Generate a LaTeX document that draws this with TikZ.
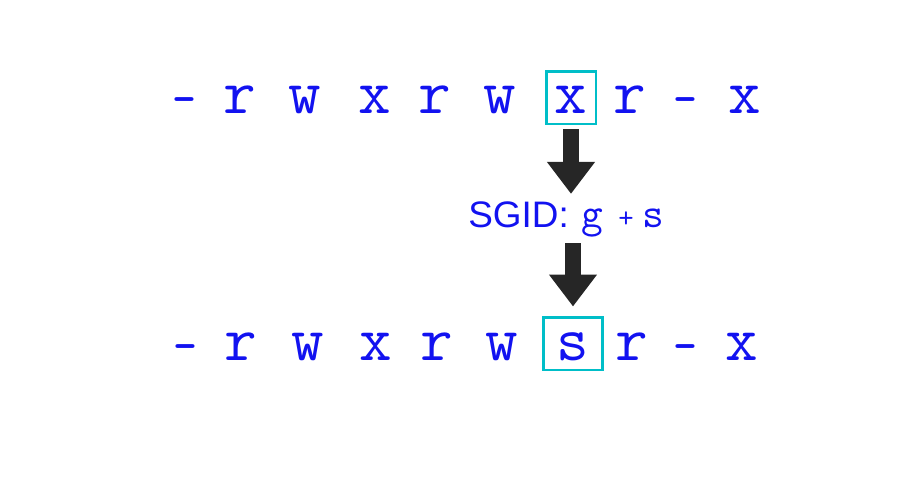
\documentclass[tikz,border=0pt]{standalone}
\usepackage{fontspec}
\setmainfont{Liberation Sans}
\usetikzlibrary{arrows.meta}
\definecolor{permblue}{RGB}{18,18,240}
\definecolor{boxcyan}{RGB}{0,190,200}
\tikzset{
  perm/.style={text=permblue,font=\ttfamily\fontsize{36}{36}\selectfont,anchor=base,inner sep=0pt},
  permdash/.style={perm,font=\ttfamily\bfseries\fontsize{26}{26}\selectfont},
  bitbox/.style={perm,draw=boxcyan,line width=1.7pt,text height=0.86cm,text depth=0.2cm},
  bigarrow/.style={draw=black!85,line width=0.32cm,-{Triangle[width=0.92cm,length=0.64cm]}}
}

\begin{document}
\begin{tikzpicture}[x=0.02cm,y=-0.02cm]
        \useasboundingbox (0,0) rectangle (900,500);
      % before: -rwxrwxr-x
        \foreach \i/\c/\x in {2/r/240,3/w/305,4/x/375,5/r/435,6/w/500,8/r/630,10/x/745}
          \node[perm] (top\i) at (\x,114) {\c};
        \foreach \i/\x in {1/184,9/685}
          \node[permdash] (top\i) at (\x,114) {-};
        \node[bitbox,minimum width=1cm] (box1) at (571,114) {x};
      % after: -rwxrwsr-x
        \foreach \i/\c/\x in {2/r/241,3/w/308,4/x/376,5/r/437,6/w/502,8/r/632,10/x/742}
          \node[perm] (bot\i) at (\x,360) {\c};
        \foreach \i/\x in {1/185,9/685}
          \node[permdash] (bot\i) at (\x,360) {-};
        \node[bitbox,minimum width=1.18cm] (box2) at (573,360) {s};
      % the change
        \node[text=permblue,font=\fontsize{21}{21}\selectfont,anchor=base west,inner sep=0pt] (sgid) at (468,228)
          {SGID:\hspace{7.4pt}{\ttfamily\fontsize{24}{24}\selectfont g\hspace{8.5pt}{\fontsize{17}{17}\selectfont+}\hspace{5pt}s}};
        \draw[bigarrow,shorten <=0.08cm,shorten >=0.16cm] (box1.south) -- (box1.south |- sgid.north);
        \draw[bigarrow,shorten <=0.1cm,shorten >=0.18cm] (box2.north |- sgid.south) -- (box2.north);
\end{tikzpicture}
\end{document}
